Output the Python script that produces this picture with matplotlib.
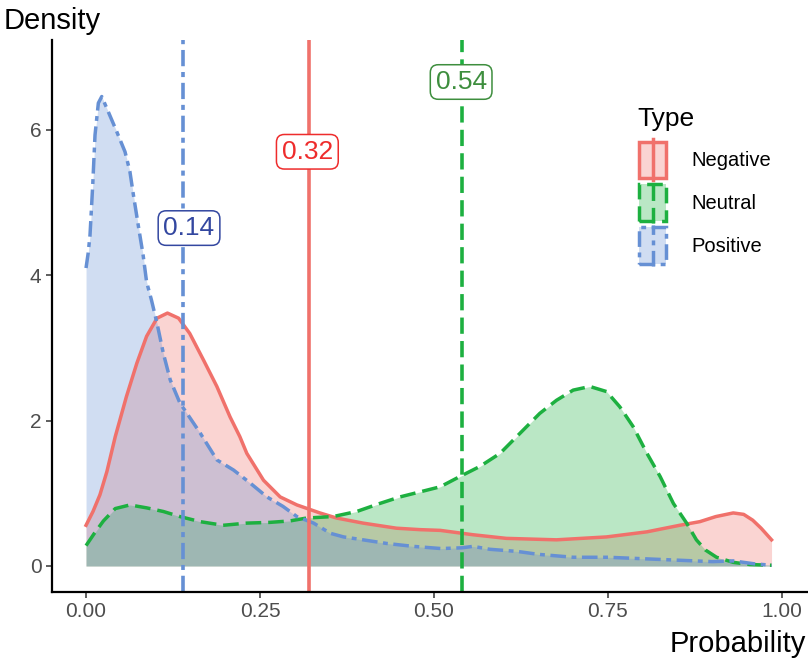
import matplotlib
matplotlib.use("Agg")
import matplotlib.pyplot as plt
from matplotlib.patches import Rectangle, Patch
from matplotlib.lines import Line2D
from matplotlib.legend_handler import HandlerBase

plt.rcParams['font.family'] = ['Liberation Sans', 'DejaVu Sans']

# density curves
neg_x = [0, 0.01, 0.02, 0.03, 0.042, 0.058, 0.073, 0.087, 0.102, 0.117, 0.133, 0.149,
         0.169, 0.188, 0.207, 0.221, 0.231, 0.255, 0.279, 0.303, 0.336, 0.36, 0.398,
         0.446, 0.48, 0.509, 0.556, 0.604, 0.676, 0.748, 0.806, 0.853, 0.882, 0.905,
         0.93, 0.945, 0.958, 0.97, 0.985]
neg_y = [0.56, 0.75, 0.98, 1.30, 1.78, 2.33, 2.79, 3.16, 3.41, 3.48, 3.41, 3.20,
         2.83, 2.47, 2.05, 1.78, 1.55, 1.18, 0.95, 0.84, 0.73, 0.66, 0.59,
         0.52, 0.50, 0.49, 0.43, 0.38, 0.36, 0.40, 0.47, 0.56, 0.61, 0.68,
         0.73, 0.71, 0.63, 0.52, 0.36]

neu_x = [0, 0.012, 0.025, 0.042, 0.063, 0.087, 0.111, 0.135, 0.164, 0.197, 0.231,
         0.264, 0.293, 0.317, 0.355, 0.389, 0.422, 0.451, 0.48, 0.509, 0.537, 0.566,
         0.595, 0.624, 0.652, 0.676, 0.70, 0.724, 0.748, 0.767, 0.786, 0.806, 0.825,
         0.844, 0.863, 0.877, 0.89, 0.906, 0.93, 0.954, 0.985]
neu_y = [0.28, 0.45, 0.62, 0.79, 0.84, 0.80, 0.75, 0.68, 0.61, 0.56, 0.59,
         0.60, 0.62, 0.66, 0.68, 0.75, 0.86, 0.95, 1.02, 1.09, 1.23, 1.37,
         1.55, 1.83, 2.10, 2.28, 2.42, 2.47, 2.40, 2.19, 1.92, 1.55, 1.23,
         0.86, 0.59, 0.36, 0.22, 0.12, 0.05, 0.02, 0.01]

pos_x = [0, 0.003, 0.0057, 0.0096, 0.0129, 0.0177, 0.0226, 0.032, 0.044, 0.056, 0.063,
         0.068, 0.075, 0.082, 0.087, 0.094, 0.102, 0.111, 0.121, 0.135, 0.145, 0.164,
         0.188, 0.212, 0.236, 0.26, 0.283, 0.303, 0.327, 0.351, 0.37, 0.398, 0.432,
         0.47, 0.51, 0.54, 0.556, 0.58, 0.62, 0.65, 0.70, 0.75, 0.80, 0.85, 0.90,
         0.93, 0.96, 0.985]
pos_y = [4.10, 4.30, 4.55, 5.24, 5.93, 6.37, 6.46, 6.25, 5.98, 5.70, 5.43,
         5.11, 4.69, 4.28, 3.91, 3.66, 3.34, 2.93, 2.56, 2.24, 2.10, 1.83,
         1.46, 1.32, 1.14, 0.95, 0.82, 0.68, 0.59, 0.45, 0.40, 0.36, 0.31,
         0.27, 0.24, 0.25, 0.27, 0.23, 0.20, 0.16, 0.12, 0.12, 0.10, 0.08, 0.06,
         0.07, 0.03, 0.01]

types = ['Negative', 'Neutral', 'Positive']
means = [0.32, 0.54, 0.14]
mean_labels = ['0.32', '0.54', '0.14']
label_x = [0.318, 0.539, 0.148]
label_y = [5.70, 6.66, 4.65]

colors = ['#F0716B', '#1DB040', '#6690D4']
text_colors = ['#EE2C2C', '#3E8E3E', '#3347A0']
styles = ['-', (0, (4.5, 2)), (0, (4.5, 1.6, 1.4, 1.6))]

fig = plt.figure(figsize=(8.08, 6.65), dpi=100)
ax = fig.add_axes([52/808, 73/665, 756/808, 552/665])

curves = [(neg_x, neg_y), (neu_x, neu_y), (pos_x, pos_y)]
for (xs, ys), c, ls in zip(curves, colors, styles):
    ax.fill_between(xs, 0, ys, color=c, alpha=0.3, lw=0)
    ax.plot(xs, ys, color=c, lw=2.5, ls=ls, solid_joinstyle='round')

for m, lab, lx, ly, c, tc, ls in zip(means, mean_labels, label_x, label_y,
                                     colors, text_colors, styles):
    ax.axvline(m, color=c, lw=2.6, ls=ls)
    ax.text(lx, ly, lab, ha='center', va='center', fontsize=19, color=tc,
            bbox=dict(boxstyle='round,pad=0.2,rounding_size=0.3', fc='white',
                      ec=tc, lw=1.1))

ax.set_xlim(-0.0489, 1.0374)
ax.set_ylim(-0.358, 7.238)
ax.set_xticks([0, 0.25, 0.5, 0.75, 1.0])
ax.set_xticklabels(['0.00', '0.25', '0.50', '0.75', '1.00'])
ax.set_yticks([0, 2, 4, 6])
ax.tick_params(labelsize=15, labelcolor='#4d4d4d', length=4, width=1.1, color='#333333')
for s in ['top', 'right']:
    ax.spines[s].set_visible(False)
for s in ['left', 'bottom']:
    ax.spines[s].set_linewidth(1.6)

fig.text(0.004, 0.990, 'Density', ha='left', va='top', fontsize=21)
fig.text(0.997, 0.010, 'Probability', ha='right', va='bottom', fontsize=21)


class KeyHandler(HandlerBase):
    def create_artists(self, legend, orig, xd, yd, w, h, fs, trans):
        c = orig.get_edgecolor()
        ls = orig.get_linestyle()
        r = Rectangle((-xd + 1.5, -yd + 1.5), w - 3, h - 3, fc=c, alpha=0.3, lw=0,
                      transform=trans)
        r2 = Rectangle((-xd + 1.5, -yd + 1.5), w - 3, h - 3, fill=False, ec=c, lw=2.5,
                       ls=ls, transform=trans)
        ln = Line2D([-xd + w / 2, -xd + w / 2], [-yd, -yd + h], color=c, lw=2.5,
                    ls=ls, transform=trans)
        return [r, r2, ln]


handles = [Patch(ec=c, fc='none', ls=ls) for c, ls in zip(colors, styles)]
leg = fig.legend(handles, types, loc='upper left', bbox_to_anchor=(619/808, 1 - 89/665),
                 frameon=False, title='Type', title_fontsize=19, fontsize=14.5,
                 handlelength=1.55, handleheight=2.75, labelspacing=0.1,
                 handletextpad=1.15, handler_map={Patch: KeyHandler()})
leg._legend_box.align = 'left'
leg._legend_box.sep = 6

fig.savefig('out.png', dpi=100)
